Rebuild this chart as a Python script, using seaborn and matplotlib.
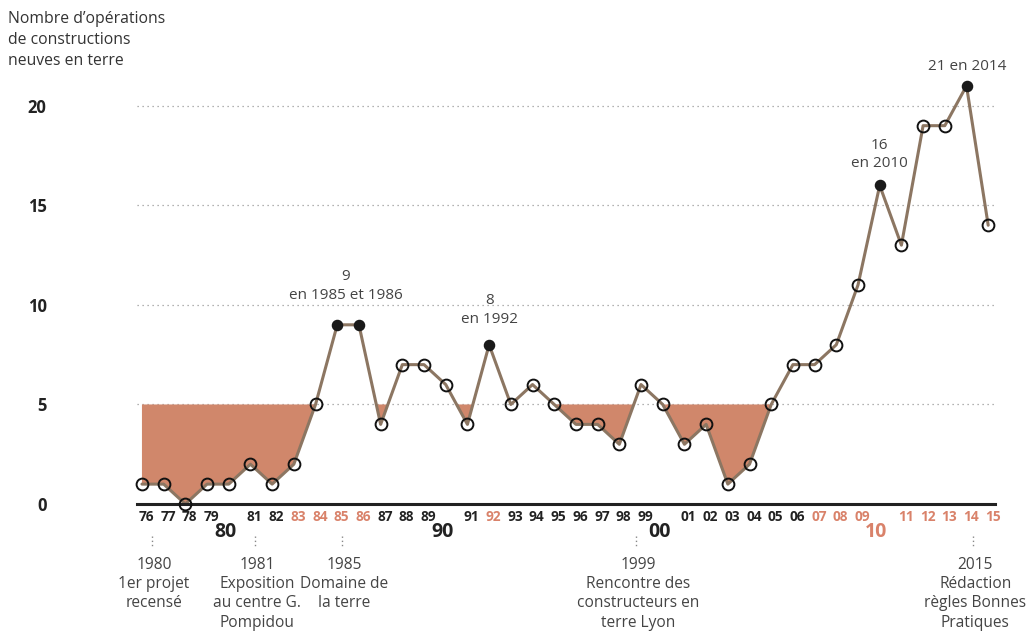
import seaborn as sns
import matplotlib.pyplot as plt
import pandas as pd
import numpy as np

# data
years = list(range(1976, 2016))
counts = [1, 1, 0, 1, 1, 2, 1, 2, 5, 9,
          9, 4, 7, 7, 6, 4, 8, 5, 6, 5,
          4, 4, 3, 6, 5, 3, 4, 1, 2, 5,
          7, 7, 8, 11, 16, 13, 19, 19, 21, 14]
highlight_years = [1985, 1986, 1992, 2010, 2014]
red_years = [1983, 1984, 1985, 1986, 1992, 2007, 2008, 2009, 2010,
             2011, 2012, 2013, 2014, 2015]
decades = [1980, 1990, 2000, 2010]
yticks = [0, 5, 10, 15, 20]
threshold = 5

peak_notes = [(1985.4, 10.1, "9\nen 1985 et 1986"),
              (1992, 8.9, "8\nen 1992"),
              (2010, 16.7, "16\nen 2010"),
              (2014.05, 21.6, "21 en 2014")]
event_x = [1976.46, 1981.2, 1985.22, 1998.78, 2014.31]
event_labels = ["1980\n1er projet\nrecensé",
                "1981\nExposition\nau centre G.\nPompidou",
                "1985\nDomaine de\nla terre",
                "1999\nRencontre des\nconstructeurs en\nterre Lyon",
                "2015\nRédaction\nrègles Bonnes\nPratiques"]

df = pd.DataFrame({'year': years, 'count': counts})

LINE = '#8c7662'
FILL = '#d0876b'
RED = '#d9826a'
DARK = '#222222'

sns.set_style("white")
plt.rcParams['font.family'] = ['Open Sans', 'DejaVu Sans']

fig = plt.figure(figsize=(10.29, 6.34), dpi=100)
ax = fig.add_axes([0.1331, 0.205, 0.834, 0.691])

# area below the 5 line
ax.fill_between(df['year'], df['count'], threshold, where=df['count'] < threshold,
                interpolate=True, color=FILL, lw=0, zorder=1)

for y in yticks[1:]:
    ax.axhline(y, color='#999999', lw=0.9, ls=(0, (1, 3)), zorder=0)

sns.lineplot(data=df, x='year', y='count', color=LINE, lw=2.2, ax=ax, zorder=2)

hl = df['year'].isin(highlight_years)
ax.plot(df.loc[~hl, 'year'], df.loc[~hl, 'count'], 'o', ms=8.5, mfc='none',
        mec='#111111', mew=1.4, clip_on=False, zorder=4)
ax.plot(df.loc[hl, 'year'], df.loc[hl, 'count'], 'o', ms=7.3, mfc='#1a1a1a',
        mec='#1a1a1a', clip_on=False, zorder=4)

ax.set_xlim(1975.77, 2015.32)
ax.set_ylim(0, 22)

for s in ['top', 'right', 'left']:
    ax.spines[s].set_visible(False)
ax.spines['bottom'].set_color('#222222')
ax.spines['bottom'].set_linewidth(2.2)
ax.spines['bottom'].set_zorder(3)

ax.set_xlabel('')
ax.set_ylabel('')
ax.set_yticks(yticks)
ax.set_yticklabels([str(v) for v in yticks], fontsize=12, fontweight='bold', color=DARK)
ax.tick_params(axis='y', length=0, pad=65)
ax.set_xticks([])

xt = ax.get_xaxis_transform()
for yr in years:
    c = RED if yr in red_years else DARK
    if yr in decades:
        ax.text(yr - 0.15, -0.064, str(yr)[2:], transform=xt, ha='center', va='center',
                fontsize=14, fontweight='bold', color=c)
    else:
        ax.text(yr + 0.2, -0.030, str(yr)[2:], transform=xt, ha='center', va='center',
                fontsize=9.8, fontweight='bold', color=c)

for x, lab in zip(event_x, event_labels):
    ax.plot([x, x], [-0.072, -0.100], transform=xt, color='#888888', lw=1.0,
            ls=(0, (1, 2)), clip_on=False)
    ax.text(x + 0.1, -0.120, lab, transform=xt, ha='center', va='top', fontsize=11.2,
            color='#444444', linespacing=1.28)

for x, y, lab in peak_notes:
    ax.text(x, y, lab, ha='center', va='bottom', fontsize=11, color='#444444',
            linespacing=1.35, clip_on=False)

fig.text(8 / 1029, 1 - 11 / 634, "Nombre d’opérations\nde constructions\nneuves en terre",
         ha='left', va='top', fontsize=11.3, color='#333333', linespacing=1.4)

plt.savefig('out.png', dpi=100)
